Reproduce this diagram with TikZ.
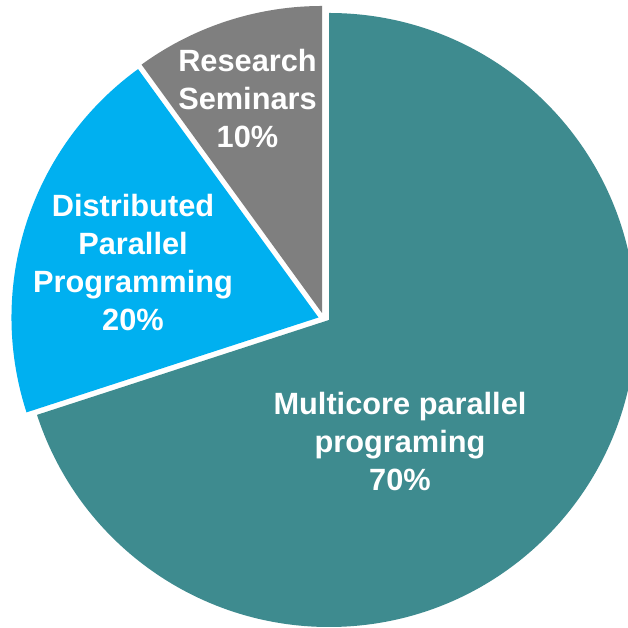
\documentclass[tikz,border=0pt]{standalone}
\usepackage{fontspec}
\setmainfont{Liberation Sans}
\definecolor{tealc}{RGB}{62,139,143}
\definecolor{bluec}{RGB}{0,176,240}
\definecolor{greyc}{RGB}{127,127,127}
\begin{document}
\begin{tikzpicture}[x=1pt,y=1pt,
  lbl/.style={text=white,align=center,inner sep=0pt,
    font=\fontsize{30.75}{38}\selectfont\bfseries}]
\useasboundingbox (0,0) rectangle (628,628);
\fill[white] (0,0) rectangle (628,628);
% Multicore 70%
\fill[tealc] (329,308) -- ++(90:307) arc (90:-162:307) -- cycle;
% Distributed 20%
\fill[bluec] (318.5,310.5) -- ++(198:307) arc (198:126:307) -- cycle;
% Research 10%
\fill[greyc] (322,315) -- ++(126:307) arc (126:90:307) -- cycle;
\node[lbl] (multi) at (400,186) {Multicore parallel\\programing\\70\%};
\node[lbl] (dist) at (133,365) {Distributed\\Parallel\\Programming\\20\%};
\node[lbl] (res) at (247.5,529) {Research\\Seminars\\10\%};
\end{tikzpicture}
\end{document}
